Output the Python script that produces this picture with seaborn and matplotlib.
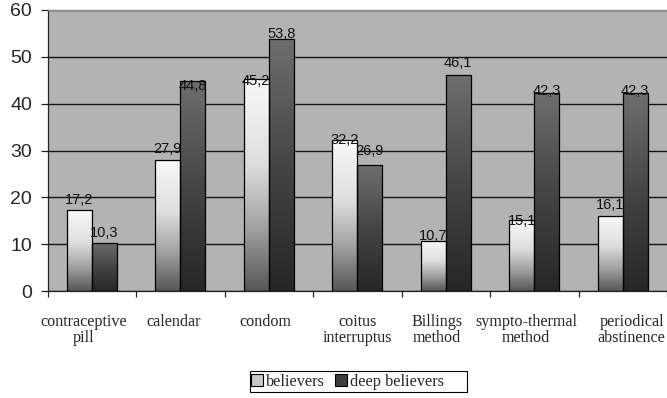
import numpy as np
import pandas as pd
import matplotlib
matplotlib.use("Agg")
import matplotlib.pyplot as plt
from matplotlib.colors import LinearSegmentedColormap
from matplotlib.patches import Patch, Rectangle
import seaborn as sns

# Share of respondents (%) using each method
categories = ["contraceptive\npill", "calendar", "condom", "coitus\ninterruptus",
              "Billings\nmethod", "sympto-thermal\nmethod", "periodical\nabstinence"]
believers = [17.2, 27.9, 45.2, 32.2, 10.7, 15.1, 16.1]
deep_believers = [10.3, 44.8, 53.8, 26.9, 46.1, 42.3, 42.3]
series_names = ["believers", "deep believers"]
y_ticks = [0, 10, 20, 30, 40, 50, 60]

# vertical nudge of each value label relative to its bar top (pixels, + is up)
label_nudge = {
    "believers": [10, 11, -2, 0, 5, -1, 11],
    "deep believers": [10, -5, 5, 14, 12, 2, 2],
}
# sideways nudge of the category names so neighbours do not collide (pixels)
name_shift = [-8, -7, -3, 0, -8.5, -8, 9]

df = pd.DataFrame({
    "method": categories * 2,
    "value": believers + deep_believers,
    "group": [series_names[0]] * len(categories) + [series_names[1]] * len(categories),
})

sns.set_theme(style="white")
plt.rcParams["font.family"] = ["Liberation Sans", "DejaVu Sans"]
serif = ["Liberation Serif", "DejaVu Serif"]
PT = 0.72  # points per pixel at 100 dpi

fig = plt.figure(figsize=(6.67, 3.98), dpi=100)
ax = fig.add_axes([47.5 / 667, 1 - 291 / 398, 1 - 47.5 / 667, (291 - 10) / 398])
ax.set_facecolor("#b3b3b3")

sns.barplot(data=df, x="method", y="value", hue="group", order=categories,
            hue_order=series_names, width=0.565, gap=0, dodge=True,
            palette=["#d0d0d0", "#454545"], edgecolor="black", linewidth=0.9,
            legend=False, ax=ax)

light_cmap = LinearSegmentedColormap.from_list(
    "light", [(0.0, "#565656"), (0.3, "#a2a2a2"), (0.6, "#dedede"), (1.0, "#f8f8f8")])
dark_cmap = LinearSegmentedColormap.from_list(
    "dark", [(0.0, "#262626"), (0.5, "#454545"), (1.0, "#6e6e6e")])
grad = np.linspace(0, 1, 256).reshape(-1, 1)

for container, name, cmap in zip(ax.containers, series_names, [light_cmap, dark_cmap]):
    for bar, val, nudge in zip(container.patches, container.datavalues, label_nudge[name]):
        x0, w, h = bar.get_x(), bar.get_width(), bar.get_height()
        img = ax.imshow(grad, extent=[x0, x0 + w, 0, h], origin="lower",
                        aspect="auto", cmap=cmap, zorder=2, interpolation="bilinear")
        img.set_clip_path(bar)
        bar.set_facecolor("none")
        bar.set_zorder(3)
        ax.annotate(f"{val:.1f}".replace(".", ","), (x0 + w / 2, h),
                    xytext=(0, nudge * PT), textcoords="offset points",
                    ha="center", va="center", fontsize=10.5, color="#111111", zorder=4)

ax.set_xlim(-0.5, len(categories) - 0.5)
ax.set_ylim(0, 60)
ax.set_yticks(y_ticks)
ax.set_yticklabels([str(t) for t in y_ticks], fontsize=14)
ax.yaxis.grid(True, color="#141414", linewidth=1.0)
ax.xaxis.grid(False)
ax.set_axisbelow(True)

# category boundaries carry the x ticks; names sit below the centres
ax.set_xticks(np.arange(-0.5, len(categories), 1.0))
ax.set_xticklabels([])
ax.tick_params(axis="x", direction="out", length=4, width=0.9, color="#222222", bottom=True)
ax.tick_params(axis="y", direction="out", length=5, width=0.9, color="#222222",
               left=True, pad=6)
for i, (cat, dx) in enumerate(zip(categories, name_shift)):
    ax.annotate(cat, xy=(i, 0), xycoords=ax.get_xaxis_transform(),
                xytext=(dx * PT, -23 * PT), textcoords="offset points",
                ha="center", va="top", fontsize=11.6, family=serif,
                linespacing=1.0, multialignment="center", annotation_clip=False)
ax.set_xlabel("")
ax.set_ylabel("")

for side in ["left", "bottom"]:
    ax.spines[side].set_color("#222222")
    ax.spines[side].set_linewidth(0.9)
ax.spines["top"].set_color("#8a8a8a")
ax.spines["top"].set_linewidth(1.0)
ax.spines["right"].set_visible(False)

# legend entries with a plain rectangular box around them
handles = [Patch(facecolor="#c8c8c8", edgecolor="black", linewidth=0.8),
           Patch(facecolor="#3c3c3c", edgecolor="black", linewidth=0.8)]
leg = fig.legend(handles, series_names, loc="center left",
                 bbox_to_anchor=(251 / 667, 1 - 381.5 / 398),
                 ncol=2, frameon=False, prop={"family": serif, "size": 11.7},
                 handlelength=0.75, handleheight=0.75, handletextpad=0.2,
                 columnspacing=0.6, borderpad=0.0, borderaxespad=0)
fig.add_artist(Rectangle((250 / 667, 1 - 392 / 398), 217 / 667, 21 / 398,
                         transform=fig.transFigure, facecolor="none",
                         edgecolor="black", linewidth=0.8))

fig.savefig("out.png", dpi=100)
